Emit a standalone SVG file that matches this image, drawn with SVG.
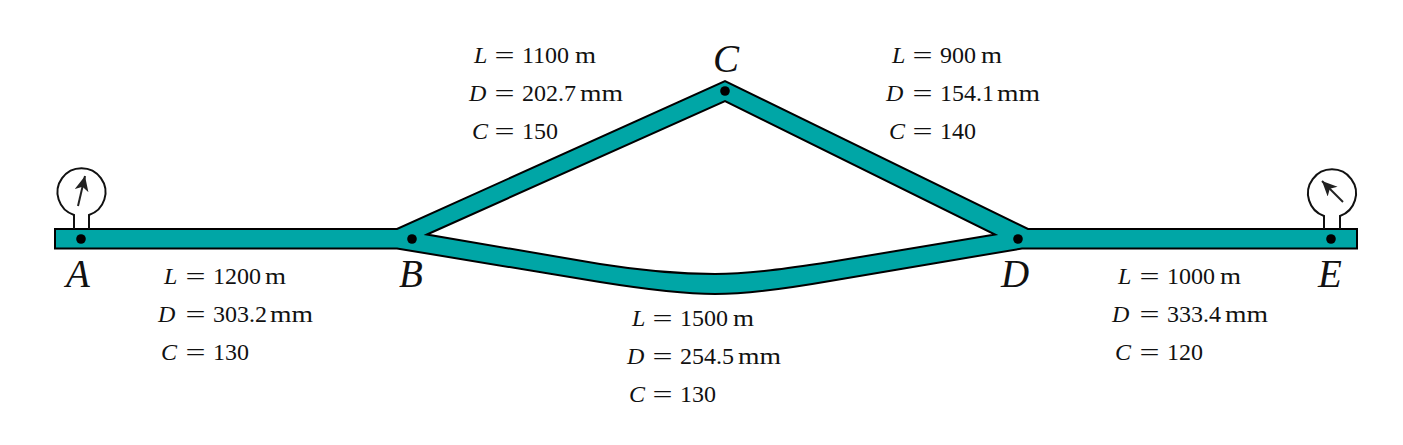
<svg xmlns="http://www.w3.org/2000/svg" width="1403" height="445" viewBox="0 0 1403 445">
<style>
text{font-family:"Liberation Serif","Times New Roman",serif;fill:#111}
.l{font-size:24px}
.i{font-style:italic}
.n{font-size:39px;font-style:italic}
.o{fill:none;stroke:#111;stroke-width:2}
.d{fill:#000}
</style>
<defs>
<marker id="arr" markerUnits="userSpaceOnUse" markerWidth="18" markerHeight="16" refX="15" refY="7" orient="auto">
<path d="M15 7L0 0L4 7L0 14Z" fill="#222"/>
</marker>
</defs>
<rect width="1403" height="445" fill="#fff"/>
<g id="connectors">
<path fill="#00a6a6" stroke="#000" stroke-width="2" stroke-linejoin="miter" fill-rule="evenodd" d="M55 229H397L725 81L1028 229H1357V248.500H1022L830 281C790 288 750 294 715 294C685 294 650 290 600 282L397 248.500H55Z M427 234.500L725 101L995 234.500L830 262C790 268 750 274 715 274C685 274 650 272 600 264Z"/>
</g>
<g id="gauge-A">
<path class="o" d="M74 229V215A24 24 0 1 1 89 215V229"/>
<path class="o" d="M78 206L85 176" marker-end="url(#arr)" style="stroke:#222"/>
</g>
<g id="gauge-E">
<path class="o" d="M1324 229V216A24 24 0 1 1 1340 216V229"/>
<path class="o" d="M1343 202L1322 181" marker-end="url(#arr)" style="stroke:#222"/>
</g>
<g id="node-A"><circle class="d" cx="81" cy="239" r="4.800"/><text class="n" x="66" y="287">A</text></g>
<g id="node-B"><circle class="d" cx="412" cy="239" r="4.800"/><text class="n" x="399" y="287">B</text></g>
<g id="node-C"><circle class="d" cx="725" cy="91" r="4.800"/><text class="n" x="713" y="72">C</text></g>
<g id="node-D"><circle class="d" cx="1018" cy="239" r="4.800"/><text class="n" x="1001" y="287">D</text></g>
<g id="node-E"><circle class="d" cx="1331" cy="239" r="4.800"/><text class="n" x="1318" y="287">E</text></g>
<g id="label-AB" class="l">
<text x="164" y="284"><tspan class="i">L</tspan></text><text x="185.500" y="284" textLength="20" lengthAdjust="spacingAndGlyphs">=</text><text x="213" y="284">1200</text><text x="265" y="284" textLength="21" lengthAdjust="spacingAndGlyphs">m</text>
<text x="158" y="322"><tspan class="i">D</tspan></text><text x="185.500" y="322" textLength="20" lengthAdjust="spacingAndGlyphs">=</text><text x="213" y="322">303.2</text><text x="270" y="322" textLength="43" lengthAdjust="spacingAndGlyphs">mm</text>
<text x="161" y="360"><tspan class="i">C</tspan></text><text x="185.500" y="360" textLength="20" lengthAdjust="spacingAndGlyphs">=</text><text x="213" y="360">130</text>
</g>
<g id="label-BC" class="l">
<text x="474" y="63"><tspan class="i">L</tspan></text><text x="494.500" y="63" textLength="20" lengthAdjust="spacingAndGlyphs">=</text><text x="522" y="63">1100</text><text x="575" y="63" textLength="21" lengthAdjust="spacingAndGlyphs">m</text>
<text x="469" y="101"><tspan class="i">D</tspan></text><text x="494.500" y="101" textLength="20" lengthAdjust="spacingAndGlyphs">=</text><text x="522" y="101">202.7</text><text x="580" y="101" textLength="43" lengthAdjust="spacingAndGlyphs">mm</text>
<text x="472" y="139"><tspan class="i">C</tspan></text><text x="494.500" y="139" textLength="20" lengthAdjust="spacingAndGlyphs">=</text><text x="522" y="139">150</text>
</g>
<g id="label-CD" class="l">
<text x="892" y="63"><tspan class="i">L</tspan></text><text x="912.500" y="63" textLength="20" lengthAdjust="spacingAndGlyphs">=</text><text x="940" y="63">900</text><text x="981" y="63" textLength="21" lengthAdjust="spacingAndGlyphs">m</text>
<text x="886" y="101"><tspan class="i">D</tspan></text><text x="912.500" y="101" textLength="20" lengthAdjust="spacingAndGlyphs">=</text><text x="940" y="101">154.1</text><text x="997" y="101" textLength="43" lengthAdjust="spacingAndGlyphs">mm</text>
<text x="889" y="139"><tspan class="i">C</tspan></text><text x="912.500" y="139" textLength="20" lengthAdjust="spacingAndGlyphs">=</text><text x="940" y="139">140</text>
</g>
<g id="label-BD" class="l">
<text x="632" y="325.500"><tspan class="i">L</tspan></text><text x="652.500" y="325.500" textLength="20" lengthAdjust="spacingAndGlyphs">=</text><text x="680" y="325.500">1500</text><text x="733" y="325.500" textLength="21" lengthAdjust="spacingAndGlyphs">m</text>
<text x="627" y="363.500"><tspan class="i">D</tspan></text><text x="652.500" y="363.500" textLength="20" lengthAdjust="spacingAndGlyphs">=</text><text x="680" y="363.500">254.5</text><text x="738" y="363.500" textLength="43" lengthAdjust="spacingAndGlyphs">mm</text>
<text x="629" y="401.500"><tspan class="i">C</tspan></text><text x="652.500" y="401.500" textLength="20" lengthAdjust="spacingAndGlyphs">=</text><text x="680" y="401.500">130</text>
</g>
<g id="label-DE" class="l">
<text x="1118" y="284"><tspan class="i">L</tspan></text><text x="1139.500" y="284" textLength="20" lengthAdjust="spacingAndGlyphs">=</text><text x="1167" y="284">1000</text><text x="1220" y="284" textLength="21" lengthAdjust="spacingAndGlyphs">m</text>
<text x="1112" y="322"><tspan class="i">D</tspan></text><text x="1139.500" y="322" textLength="20" lengthAdjust="spacingAndGlyphs">=</text><text x="1167" y="322">333.4</text><text x="1225" y="322" textLength="43" lengthAdjust="spacingAndGlyphs">mm</text>
<text x="1115" y="360"><tspan class="i">C</tspan></text><text x="1139.500" y="360" textLength="20" lengthAdjust="spacingAndGlyphs">=</text><text x="1167" y="360">120</text>
</g>
</svg>
